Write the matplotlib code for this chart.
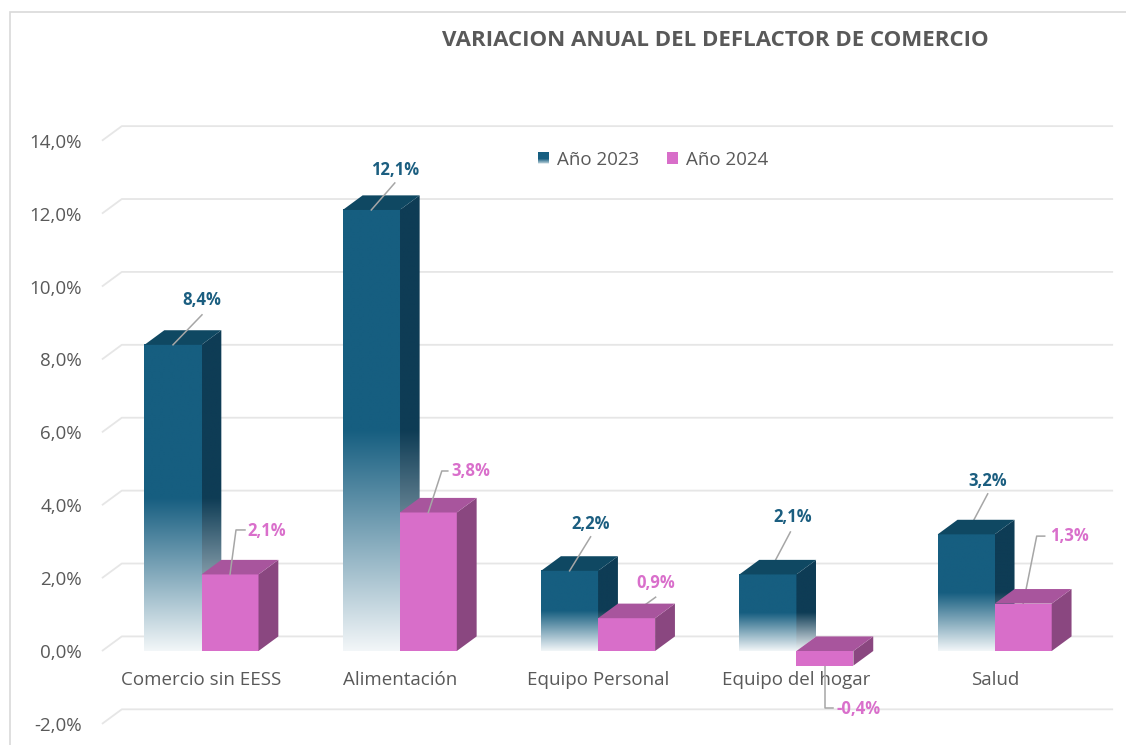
import numpy as np
import matplotlib
matplotlib.use("Agg")
import matplotlib.pyplot as plt
from matplotlib.patches import Polygon, Rectangle, Patch
from matplotlib.legend_handler import HandlerBase
from matplotlib.colors import to_rgb

# ---------------- data ----------------
categories = ["Comercio sin EESS", "Alimentación", "Equipo Personal",
              "Equipo del hogar", "Salud"]
series_names = ["Año 2023", "Año 2024"]
values_2023 = [8.4, 12.1, 2.2, 2.1, 3.2]
values_2024 = [2.1, 3.8, 0.9, -0.4, 1.3]
y_ticks = [-2, 0, 2, 4, 6, 8, 10, 12, 14]
title = "VARIACION ANUAL DEL DEFLACTOR DE COMERCIO"

# ---------------- style / layout ----------------
FW, FH = 1126, 745
X0_PX, CAT_PX = 201.5, 198.3     # pixel of category 0, pixels per category
Y0_PX, UNIT_PX = 651.0, 36.45    # pixel (from top) of 0 %, pixels per 1 %
XLIM = (-0.55, 4.6)
YLIM = (-2.5, 15.0)
BAR_W = 0.2875
DX, DY = 0.1, 0.4                # 3D depth in data units

FONT = ["Open Sans", "DejaVu Sans"]
GREY = "#595959"
GRID = "#e6e6e6"

BLUE_FRONT = "#165e80"
BLUE_SIDE = "#0e3c55"
BLUE_TOP = "#0f4862"
LIGHT = "#f2f6f8"
PINK_FRONT = "#d86ec9"
PINK_TOP = "#a8559d"
PINK_SIDE = "#8a4780"
BLUE_TXT = "#1b5e80"
PINK_TXT = "#d96fcb"

# label layout: text centre offset and leader path, in pixels relative to the
# anchor (screen y grows downward)
lab_2023 = [((29, -45), [(0, 0), (29, -30)]),
            ((23.5, -40), [(0, 0), (23.5, -27)]),
            ((21, -47), [(0, 0), (21, -34)]),
            ((24.5, -57.5), [(0, 0), (22.5, -42.5)]),
            ((21.5, -53.5), [(0, 0), (21.5, -40.5)])]
lab_2024 = [((37, -43.5), [(0, 0), (6, -44.5), (15, -44.5)]),
            ((43, -41), [(0, 0), (13.5, -41.5), (19.5, -41.5)]),
            ((29, -35), [(0, 0), (29, -21)]),
            ((33.5, 43.5), [(0, 0), (0, 42.5), (8, 42.5)]),
            ((46, -67.5), [(0, 0), (13.5, -67.5), (21.5, -67.5)])]

plt.rcParams["font.family"] = FONT

fig = plt.figure(figsize=(FW / 100, FH / 100), dpi=100)
L = X0_PX + CAT_PX * XLIM[0]
R = X0_PX + CAT_PX * XLIM[1]
B = FH - (Y0_PX - UNIT_PX * YLIM[0])
T = FH - (Y0_PX - UNIT_PX * YLIM[1])
ax = fig.add_axes([L / FW, B / FH, (R - L) / FW, (T - B) / FH])
ax.set_xlim(*XLIM)
ax.set_ylim(*YLIM)
for s in ax.spines.values():
    s.set_visible(False)
ax.set_xticks([])
ax.set_yticks(y_ticks)
ax.set_yticklabels([f"{t:.1f}".replace(".", ",") + "%" for t in y_ticks],
                   fontsize=13.5, color=GREY)
ax.tick_params(axis="y", length=0, pad=7.5)

# chart frame
fig.add_artist(Rectangle((10 / FW, -0.1), 1.2, (FH - 12) / FH + 0.1,
                         transform=fig.transFigure, fill=False,
                         edgecolor="#d9d9d9", lw=1.2))

# gridlines on side/back wall
wall_x = XLIM[0] + 0.048
for t in y_ticks:
    ax.plot([wall_x, wall_x + DX, XLIM[1] - 0.003], [t, t + DY, t + DY],
            color=GRID, lw=1.3, zorder=1, solid_capstyle="butt")


def gradient_img(dark, y0, y1, vtop, n=300, solid=0.5):
    ys = np.linspace(y0, y1, n)
    t = np.clip(ys / vtop, 0, 1)
    w = np.clip(t / solid, 0, 1)[:, None]
    d = np.array(to_rgb(dark))
    l = np.array(to_rgb(LIGHT))
    rgb = l * (1 - w) + d * w
    img = np.ones((n, 1, 4))
    img[:, 0, :3] = rgb
    return img


def bar3d(xl, v, front, side, top, grad=False, z=2):
    xr = xl + BAR_W
    lo, hi = min(0, v), max(0, v)
    side_pts = [(xr, lo), (xr + DX, lo + DY), (xr + DX, hi + DY), (xr, hi)]
    top_pts = [(xl, hi), (xr, hi), (xr + DX, hi + DY), (xl + DX, hi + DY)]
    if grad:
        ax.imshow(gradient_img(front, lo, hi, v), extent=[xl, xr, lo, hi],
                  origin="lower", aspect="auto", interpolation="bilinear",
                  zorder=z)
        clip = Polygon(side_pts, closed=True, transform=ax.transData)
        im = ax.imshow(gradient_img(side, lo, hi + DY, v),
                       extent=[xr, xr + DX, lo, hi + DY], origin="lower",
                       aspect="auto", interpolation="bilinear", zorder=z)
        im.set_clip_path(clip)
    else:
        ax.add_patch(Rectangle((xl, lo), BAR_W, hi - lo, facecolor=front,
                               edgecolor="none", zorder=z))
        ax.add_patch(Polygon(side_pts, closed=True, facecolor=side,
                             edgecolor="none", zorder=z))
    ax.add_patch(Polygon(top_pts, closed=True, facecolor=top,
                         edgecolor="none", zorder=z))


def data_label(xc, v, layout, color):
    (tx, ty), path = layout
    xs = [xc + px / CAT_PX for px, py in path]
    ys = [v - py / UNIT_PX for px, py in path]
    ax.plot(xs, ys, color="#a6a6a6", lw=1.1, zorder=6)
    txt = f"{v:.1f}".replace(".", ",") + "%"
    ax.text(xc + tx / CAT_PX, v - ty / UNIT_PX, txt, ha="center",
            va="center", fontsize=12, fontweight="bold", color=color,
            zorder=7)


for i, cat in enumerate(categories):
    v1, v2 = values_2023[i], values_2024[i]
    bar3d(i - BAR_W, v1, BLUE_FRONT, BLUE_SIDE, BLUE_TOP, grad=True, z=2 + i * 2)
    bar3d(i, v2, PINK_FRONT, PINK_SIDE, PINK_TOP, grad=False, z=3 + i * 2)
    ax.text(i, -0.8, cat, ha="center", va="center", fontsize=13.5,
            color=GREY, zorder=4)
    data_label(i - BAR_W / 2, v1, lab_2023[i], BLUE_TXT)
    data_label(i + BAR_W / 2, v2, lab_2024[i], PINK_TXT)


class GradientHandler(HandlerBase):
    def create_artists(self, legend, orig_handle, xdescent, ydescent, width,
                       height, fontsize, trans):
        arts = []
        n = 14
        d = np.array(to_rgb(BLUE_FRONT))
        l = np.array(to_rgb(LIGHT))
        for k in range(n):
            f = (k + 0.5) / n
            w = min(f / 0.45, 1.0)
            c = l * (1 - w) + d * w
            arts.append(Rectangle((-xdescent, -ydescent + height * k / n),
                                  width, height / n * 1.05, facecolor=c,
                                  edgecolor="none", transform=trans))
        return arts


h23 = Patch(facecolor=BLUE_FRONT)
h24 = Patch(facecolor=PINK_FRONT, edgecolor="none")
fig.legend([h23, h24], series_names, loc="center",
           bbox_to_anchor=(653 / FW, 1 - 160 / FH), ncol=2, frameon=False,
           fontsize=13.5, labelcolor=GREY, handlelength=0.6,
           handleheight=0.6, handletextpad=0.4, columnspacing=1.5,
           borderpad=0, handler_map={h23: GradientHandler()})

fig.text(715 / FW, 1 - 40 / FH, title, ha="center", va="center",
         fontsize=16, fontweight="bold", color=GREY)

fig.savefig("out.png", dpi=100)
